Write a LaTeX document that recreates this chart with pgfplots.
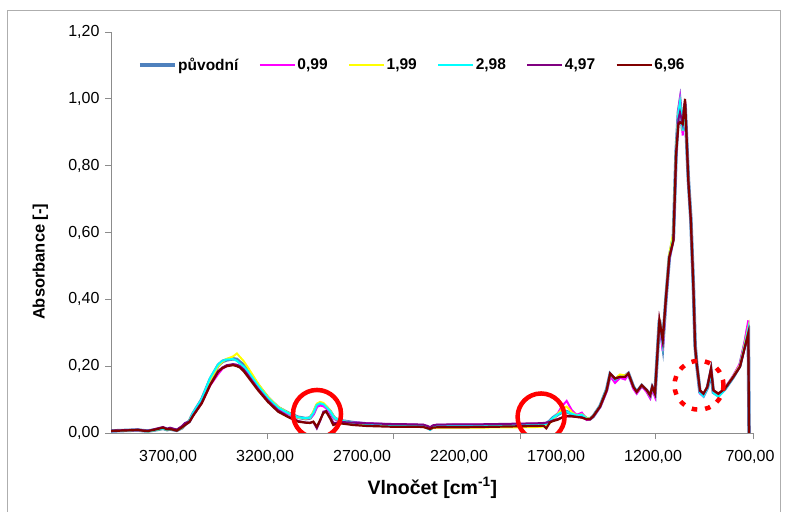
\documentclass[border=0pt]{standalone}
\usepackage{fontspec}
\setmainfont{Liberation Sans}
\usepackage{pgfplots}
\usepackage{pgfplotstable}
\pgfplotsset{compat=1.18}

\definecolor{cOrig}{HTML}{4F81BD}
\definecolor{cMag}{HTML}{FF00FF}
\definecolor{cYel}{HTML}{FFFF00}
\definecolor{cCya}{HTML}{00FFFF}
\definecolor{cPur}{HTML}{800080}
\definecolor{cRed}{HTML}{800000}
\definecolor{axgray}{HTML}{8C8C8C}

% wavenumber, original, 0.99, 1.99, 2.98, 4.97, 6.96
\pgfplotstableread{
wn   o     m     y     c     p     r
3996 0.006 0.005 0.006 0.005 0.007 0.006
3950 0.007 0.007 0.007 0.007 0.008 0.007
3900 0.008 0.008 0.008 0.008 0.009 0.008
3855 0.009 0.008 0.009 0.009 0.010 0.009
3830 0.007 0.007 0.007 0.007 0.008 0.007
3803 0.006 0.006 0.005 0.005 0.006 0.006
3760 0.010 0.011 0.010 0.010 0.013 0.011
3726 0.014 0.015 0.013 0.013 0.018 0.016
3705 0.010 0.011 0.010 0.010 0.013 0.011
3690 0.012 0.013 0.012 0.012 0.016 0.012
3655 0.008 0.008 0.008 0.008 0.010 0.007
3630 0.015 0.016 0.014 0.015 0.020 0.016
3612 0.026 0.025 0.025 0.026 0.030 0.024
3590 0.035 0.034 0.036 0.036 0.034 0.033
3571 0.058 0.052 0.058 0.060 0.053 0.051
3526 0.100 0.090 0.098 0.102 0.092 0.089
3483 0.160 0.142 0.158 0.165 0.145 0.143
3442 0.202 0.176 0.200 0.205 0.185 0.183
3420 0.214 0.192 0.213 0.216 0.196 0.194
3397 0.219 0.200 0.222 0.220 0.203 0.200
3365 0.222 0.205 0.229 0.221 0.206 0.203
3345 0.220 0.204 0.238 0.216 0.204 0.200
3330 0.212 0.200 0.228 0.208 0.200 0.196
3310 0.203 0.191 0.215 0.199 0.190 0.185
3288 0.188 0.178 0.196 0.185 0.173 0.168
3236 0.143 0.138 0.148 0.142 0.132 0.128
3185 0.105 0.102 0.108 0.105 0.097 0.093
3133 0.076 0.074 0.078 0.076 0.068 0.064
3082 0.060 0.058 0.061 0.060 0.050 0.048
3030 0.047 0.046 0.046 0.047 0.036 0.034
2990 0.043 0.043 0.043 0.044 0.031 0.031
2968 0.045 0.045 0.046 0.046 0.031 0.030
2951 0.058 0.055 0.064 0.060 0.033 0.034
2933 0.082 0.078 0.088 0.084 0.014 0.019
2916 0.088 0.082 0.093 0.089 0.036 0.039
2899 0.085 0.080 0.090 0.086 0.064 0.060
2885 0.078 0.074 0.081 0.078 0.066 0.064
2865 0.065 0.062 0.068 0.066 0.048 0.044
2848 0.049 0.047 0.051 0.050 0.031 0.024
2839 0.043 0.042 0.044 0.044 0.030 0.026
2813 0.037 0.036 0.037 0.037 0.033 0.029
2746 0.031 0.032 0.030 0.031 0.031 0.024
2674 0.027 0.029 0.026 0.027 0.029 0.021
2556 0.024 0.026 0.021 0.024 0.027 0.019
2450 0.023 0.025 0.019 0.023 0.026 0.019
2384 0.022 0.024 0.018 0.022 0.025 0.018
2362 0.016 0.019 0.015 0.014 0.021 0.014
2349 0.012 0.015 0.012 0.010 0.017 0.012
2335 0.018 0.021 0.015 0.018 0.023 0.016
2315 0.022 0.024 0.016 0.021 0.025 0.017
2200 0.022 0.025 0.016 0.022 0.026 0.017
2092 0.022 0.025 0.016 0.022 0.026 0.018
1990 0.023 0.026 0.017 0.023 0.027 0.019
1900 0.023 0.027 0.017 0.023 0.028 0.020
1800 0.025 0.028 0.018 0.025 0.029 0.021
1765 0.026 0.029 0.019 0.026 0.030 0.022
1750 0.028 0.030 0.020 0.028 0.031 0.014
1731 0.036 0.034 0.030 0.036 0.034 0.032
1714 0.046 0.040 0.042 0.046 0.038 0.036
1690 0.056 0.060 0.058 0.056 0.042 0.040
1670 0.062 0.080 0.070 0.062 0.046 0.046
1645 0.064 0.096 0.079 0.064 0.050 0.051
1630 0.060 0.080 0.070 0.060 0.050 0.050
1619 0.057 0.069 0.062 0.058 0.050 0.050
1593 0.052 0.054 0.052 0.052 0.048 0.048
1567 0.055 0.061 0.056 0.055 0.047 0.046
1542 0.042 0.039 0.044 0.042 0.041 0.041
1525 0.042 0.041 0.043 0.042 0.041 0.041
1508 0.050 0.049 0.051 0.050 0.050 0.050
1473 0.080 0.077 0.080 0.081 0.079 0.079
1439 0.130 0.124 0.130 0.131 0.128 0.128
1421 0.176 0.170 0.175 0.178 0.178 0.178
1396 0.160 0.150 0.162 0.160 0.163 0.163
1370 0.170 0.165 0.175 0.168 0.168 0.168
1344 0.170 0.160 0.172 0.168 0.168 0.168
1327 0.178 0.175 0.178 0.176 0.178 0.178
1301 0.138 0.132 0.138 0.140 0.138 0.138
1284 0.122 0.118 0.123 0.125 0.123 0.123
1258 0.142 0.140 0.143 0.143 0.143 0.143
1232 0.127 0.122 0.127 0.128 0.128 0.128
1215 0.110 0.104 0.112 0.111 0.113 0.113
1204 0.135 0.130 0.136 0.135 0.138 0.138
1190 0.116 0.108 0.118 0.116 0.118 0.118
1167 0.338 0.340 0.342 0.338 0.337 0.337
1150 0.265 0.245 0.270 0.265 0.275 0.278
1133 0.405 0.400 0.410 0.405 0.407 0.407
1116 0.525 0.520 0.535 0.525 0.526 0.526
1095 0.585 0.580 0.600 0.585 0.576 0.576
1081 0.840 0.835 0.850 0.840 0.835 0.835
1069 0.960 0.965 0.955 0.960 0.940 0.924
1061 0.990 1.000 0.985 0.990 0.960 0.930
1047 0.905 0.890 0.905 0.905 0.925 0.925
1035 0.985 0.990 0.980 0.985 0.995 1.000
1018 0.760 0.760 0.760 0.758 0.755 0.755
1005 0.640 0.640 0.640 0.638 0.636 0.636
992  0.440 0.440 0.440 0.438 0.437 0.437
983  0.262 0.262 0.260 0.260 0.258 0.258
975  0.208 0.206 0.208 0.206 0.208 0.208
958  0.122 0.118 0.125 0.120 0.126 0.128
940  0.112 0.110 0.116 0.110 0.117 0.118
920  0.135 0.135 0.136 0.133 0.137 0.138
901  0.185 0.188 0.185 0.180 0.190 0.193
889  0.122 0.122 0.125 0.120 0.127 0.128
863  0.112 0.114 0.115 0.108 0.117 0.118
829  0.132 0.134 0.133 0.130 0.133 0.133
786  0.168 0.172 0.170 0.167 0.168 0.168
752  0.202 0.208 0.203 0.200 0.198 0.198
726  0.268 0.278 0.270 0.265 0.258 0.258
709  0.320 0.337 0.315 0.310 0.300 0.297
705  0.000 0.000 0.000 0.000 0.000 0.000
}\spectra

\begin{document}
\begin{tikzpicture}
\path[use as bounding box] (0,0) rectangle (787bp,512bp);
\draw[axgray!70, line width=1bp] (7bp,0) -- (7bp,501bp) -- (780bp,501bp) -- (780bp,0);
\begin{axis}[
  at={(111bp,79bp)}, anchor=south west,
  scale only axis, width=642.7bp, height=401bp,
  xmin=-3994, xmax=-681, ymin=0, ymax=1.2,
  axis x line*=bottom, axis y line*=left,
  axis line style={draw=axgray, line width=0.8bp, -},
  tick align=outside, major tick length=6bp,
  tick style={draw=axgray, line width=0.8bp},
  xtick={-3700,-3200,-2700,-2200,-1700,-1200,-700},
  xticklabels={{3700,00},{3200,00},{2700,00},{2200,00},{1700,00},{1200,00},{700,00}},
  xtick style={draw=none},
  extra x ticks={-3190,-2538,-1885,-1190,-682},
  extra x tick labels={},
  extra x tick style={xtick style={draw=axgray}},
  ytick={0,0.2,0.4,0.6,0.8,1.0,1.2},
  yticklabels={{0,00},{0,20},{0,40},{0,60},{0,80},{1,00},{1,20}},
  ticklabel style={font=\fontsize{16bp}{19bp}\selectfont},
  xticklabel style={yshift=-8bp},
  yticklabel style={xshift=-2bp},
  xlabel={Vlnočet [cm\textsuperscript{-1}]},
  ylabel={Absorbance [-]},
  xlabel style={font=\fontsize{19.5bp}{23bp}\selectfont\bfseries, at={(axis description cs:0.5,-0.137)}, anchor=center},
  ylabel style={font=\fontsize{16.5bp}{20bp}\selectfont\bfseries, at={(axis description cs:-0.11,0.427)}, anchor=center},
  legend columns=6,
  legend style={draw=none, fill=none, inner sep=0pt,
    at={(axis description cs:0.042,0.918)}, anchor=west,
    font=\fontsize{15.5bp}{18bp}\selectfont\bfseries,
    nodes={inner sep=1.5bp},
    /tikz/every even column/.append style={column sep=19bp}},
  legend image code/.code={\draw[#1] (0bp,0bp) -- (35bp,0bp);},
]
\addplot[cOrig, line width=3.5bp] table[x expr=-\thisrow{wn}, y=o] {\spectra};
\addlegendentry{původní}
\addplot[cMag, line width=2bp] table[x expr=-\thisrow{wn}, y=m] {\spectra};
\addlegendentry{0,99}
\addplot[cYel, line width=2bp] table[x expr=-\thisrow{wn}, y=y] {\spectra};
\addlegendentry{1,99}
\addplot[cCya, line width=2bp] table[x expr=-\thisrow{wn}, y=c] {\spectra};
\addlegendentry{2,98}
\addplot[cPur, line width=2bp] table[x expr=-\thisrow{wn}, y=p] {\spectra};
\addlegendentry{4,97}
\addplot[cRed, line width=2.2bp] table[x expr=-\thisrow{wn}, y=r] {\spectra};
\addlegendentry{6,96}
% highlighted regions
\draw[red, line width=4.5bp] (axis cs:-2932,0.057) circle[radius=24bp];
\draw[red, line width=4.5bp] (axis cs:-1777,0.048) circle[radius=23.5bp];
\draw[red, line width=4.5bp, dash pattern=on 5.5bp off 8bp] (axis cs:-963,0.143) circle[radius=24.5bp];
\end{axis}
\end{tikzpicture}
\end{document}
